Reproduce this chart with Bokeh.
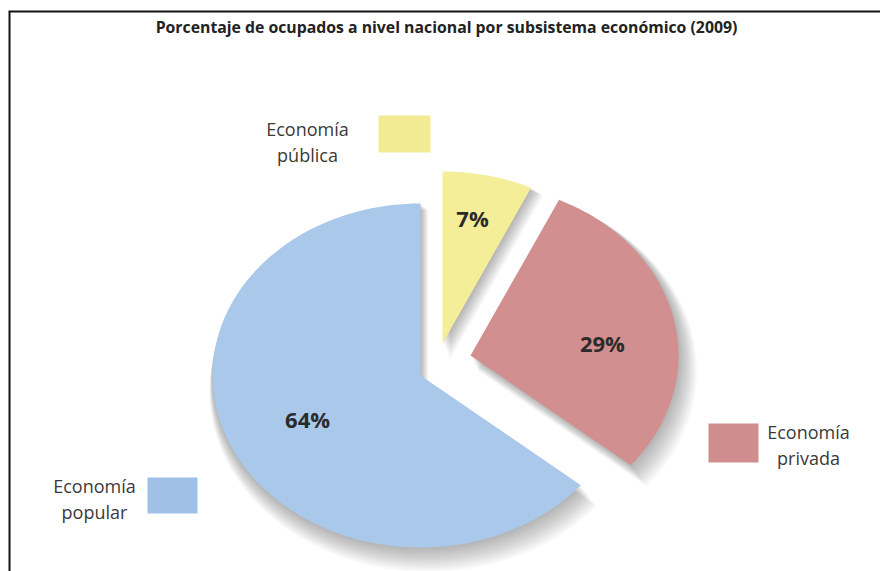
import numpy as np
from bokeh.plotting import figure
from bokeh.models import Range1d
from bokeh.embed import file_html
from bokeh.resources import INLINE
from bokeh.core.properties import value

# ---------------- data ----------------
title = "Porcentaje de ocupados a nivel nacional por subsistema económico (2009)"
categories = ["Economía popular", "Economía pública", "Economía privada"]
legend_line1 = ["Economía", "Economía", "Economía"]
legend_line2 = ["popular", "pública", "privada"]
values = [64, 7, 29]
labels = ["64%", "7%", "29%"]
colors = ["#A9C8EA", "#F4EE98", "#D1908F"]
legend_colors = ["#9FC1E7", "#F2EB93", "#D08D8D"]

# ---------------- layout / style ----------------
W, H = 880, 571
CX, CY = 420, 375          # pie centre (screen-like units, y downward)
RX, RY = 208, 172          # ellipse radii (tilted pie)
explode = {"Economía popular": (0, 0), "Economía pública": (22, -32), "Economía privada": (50, -20)}
label_frac = {"Economía popular": 0.6, "Economía pública": 0.75, "Economía privada": 0.65}
label_nudge = {"Economía popular": (0, 0), "Economía pública": (-4, 0), "Economía privada": (0, 12)}
legend_box = {"Economía popular": (147, 477, 197, 513),
              "Economía pública": (378, 115, 430, 152),
              "Economía privada": (708, 423, 758, 462)}
legend_text = {"Economía popular": (94, 485),
               "Economía pública": (307, 128),
               "Economía privada": (808, 431)}

p = figure(width=W, height=H, output_backend="svg", toolbar_location=None,
           x_range=Range1d(0, W), y_range=Range1d(H, 0), min_border=0)
p.axis.visible = False
p.grid.visible = False
p.outline_line_color = None
p.background_fill_color = "white"
p.border_fill_color = "white"

# frame lines (left and top, meeting at the corner)
p.line([9, 9, W], [H, 11, 11], line_color="#111111", line_width=2, line_join="miter")

# clockwise from 12 o'clock: pública, privada, popular
order = [1, 2, 0]
total = float(sum(values))
slices = []
a = 90.0
for i in order:
    sweep = values[i] / total * 360.0
    a0, a1 = a, a - sweep
    slices.append((i, a0, a1))
    a = a1

def wedge_pts(a0, a1, dx, dy, scale=1.0):
    th = np.radians(np.linspace(a0, a1, 120))
    xs = [CX + dx] + list(CX + dx + scale * RX * np.cos(th))
    ys = [CY + dy] + list(CY + dy - scale * RY * np.sin(th))
    return xs, ys

# soft shadow
for k in range(1, 14):
    for i, a0, a1 in slices:
        dx, dy = explode[categories[i]]
        xs, ys = wedge_pts(a0, a1, dx + 0.6 * k, dy + 1.2 * k, 1.0 + 0.004 * k)
        p.patch(xs, ys, fill_color="#000000", fill_alpha=0.024, line_color=None)

for i, a0, a1 in slices:
    dx, dy = explode[categories[i]]
    xs, ys = wedge_pts(a0, a1, dx, dy)
    p.patch(xs, ys, fill_color=colors[i], line_color=None)

# percentage labels
lx, ly = [], []
for i, a0, a1 in slices:
    c = categories[i]
    dx, dy = explode[c]
    mid = np.radians((a0 + a1) / 2)
    f = label_frac[c]
    nx, ny = label_nudge[c]
    lx.append(CX + dx + f * RX * np.cos(mid) + nx)
    ly.append(CY + dy - f * RY * np.sin(mid) + ny)
p.text(lx, ly, text=[labels[i] for i, _, _ in slices], text_align="center", text_baseline="middle",
       text_font=value("Open Sans"), text_font_style="bold", text_font_size="22px", text_color="#2b2b2b")

# legend swatches and texts
for i, c in enumerate(categories):
    x0, y0, x1, y1 = legend_box[c]
    p.quad(left=[x0], right=[x1], top=[y0], bottom=[y1], fill_color=legend_colors[i], line_color=None)
    tx, ty = legend_text[c]
    p.text([tx, tx], [ty, ty + 26], text=[legend_line1[i], legend_line2[i]], text_align="center",
           text_baseline="middle", text_font=value("Open Sans"), text_font_size="18px", text_color="#3a3a3a")

# title
p.text([446], [26], text=[title], text_align="center", text_baseline="middle",
       text_font=value("Open Sans"), text_font_style="bold", text_font_size="15.8px", text_color="#222222")

open("out.html", "w").write(file_html(p, INLINE))
